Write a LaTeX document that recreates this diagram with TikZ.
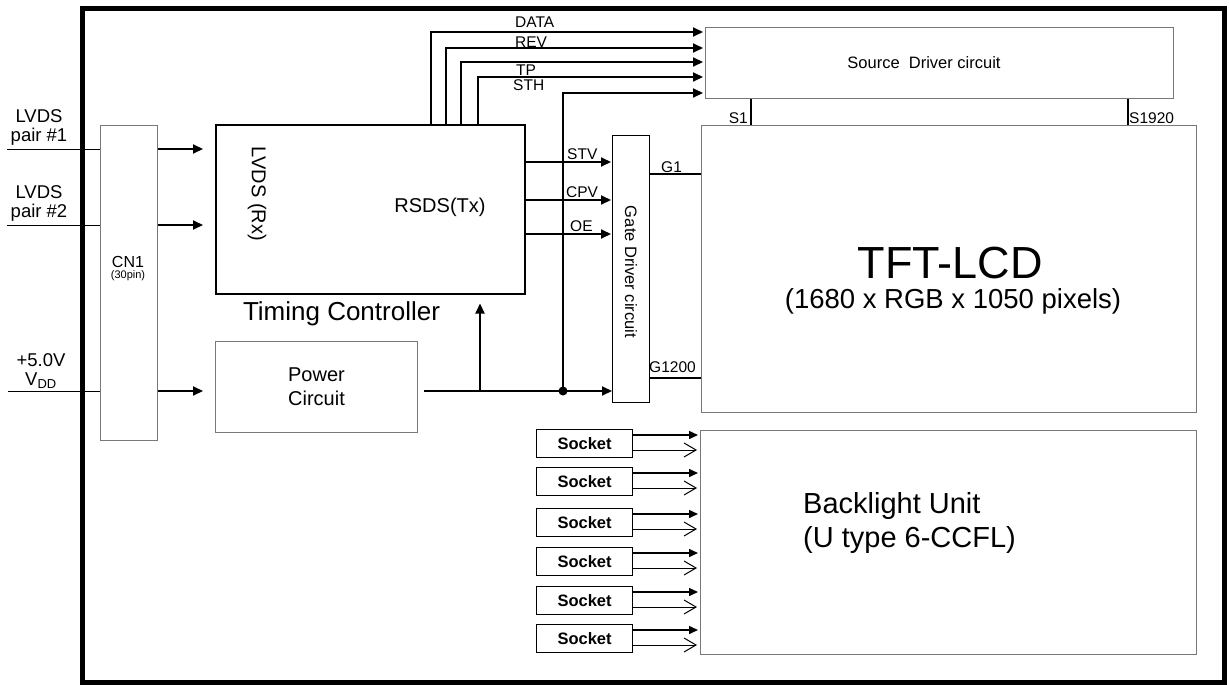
\documentclass[tikz,border=0pt]{standalone}
\usepackage{fontspec}
\setmainfont{Liberation Sans}
\usetikzlibrary{arrows.meta, positioning}
\definecolor{grijs}{RGB}{120,120,120}
\newcommand{\grootte}[1]{\fontsize{#1}{#1}\selectfont}

\tikzset{
  blok/.style={draw, rectangle, inner sep=0pt, anchor=north west, line width=1pt},
  grijsblok/.style={blok, draw=grijs},
  sig/.style={line width=2pt, -{Triangle[length=10pt, width=9pt]}},
  draad/.style={line width=1.5pt},
  lbl/.style={font=\grootte{15.5}, inner sep=0pt, anchor=base west},
  tekst/.style={inner sep=0pt, align=center},
}

\begin{document}
\begin{tikzpicture}[x=1pt, y=-1pt]
  \useasboundingbox (0,0) rectangle (1229,685);
  % kader
  \draw[line width=5pt] (82.5,8.5) rectangle (1224.5,682.5);

  % blokken
  \node[grijsblok, minimum width=57, minimum height=315] (cn) at (100,125) {};
  \node[blok, line width=1.5pt, minimum width=309, minimum height=169] (tc) at (215,124) {};
  \node[grijsblok, minimum width=202, minimum height=91, font=\grootte{20}, align=center] (pwr) at (215,341) {Power\\[4pt]Circuit};
  \node[grijsblok, minimum width=468, minimum height=71] (src) at (705,27) {};
  \node[blok, minimum width=37, minimum height=267] (gd) at (612,135) {};
  \node[grijsblok, minimum width=495, minimum height=287] (tft) at (701,125) {};
  \node[grijsblok, minimum width=496, minimum height=224] (bl) at (700,430) {};

  % teksten in de blokken
  \node[tekst, font=\grootte{16}] (cntxt) at (128,262) {CN1};
  \node[tekst, font=\grootte{11}] (cnpin) at (128,276) {(30pin)};
  \node[tekst, font=\grootte{20}, rotate=-90] (rx) at (257,194) {LVDS (Rx)};
  \node[tekst, font=\grootte{20}] (tx) at (440,207) {RSDS(Tx)};
  \node[inner sep=0pt, anchor=base, font=\grootte{26}] (tcnaam) at (341.5,320) {Timing Controller};
  \node[tekst, font=\grootte{16.5}] (srctxt) at (924,63) {Source~~Driver circuit};
  \node[tekst, font=\grootte{16.5}, rotate=-90] (gdtxt) at (631,272) {Gate Driver circuit};
  \node[tekst, font=\grootte{45}] (lcd) at (950,263) {TFT-LCD};
  \node[tekst, font=\grootte{27.5}] (res) at (953,301) {(1680 x RGB x 1050 pixels)};
  \node[tekst, font=\grootte{29}, align=left, anchor=west] (bltxt) at (803,523) {Backlight Unit\\[5pt](U type 6-CCFL)};

  % ingangen
  \coordinate (in1) at (7,149);
  \coordinate (in2) at (7,225);
  \coordinate (vdd) at (8,391);
  \node[tekst, font=\grootte{18.5}, anchor=south] (in1txt) at (39,146) {LVDS\\[1pt]pair \#1};
  \node[tekst, font=\grootte{18.5}, anchor=south] (in2txt) at (39,222) {LVDS\\[1pt]pair \#2};
  \node[tekst, font=\grootte{18.5}, anchor=south] (vddtxt) at (41,389) {+5.0V\\[1pt]V\textsubscript{DD}};
  \foreach \p in {in1, in2, vdd} {
    \draw[line width=1pt] (\p) -- (\p -| cn.west);
  }
  \draw[sig, shorten >=12pt] (in1 -| cn.east) -- (in1 -| tc.west);
  \draw[sig, shorten >=12pt] (in2 -| cn.east) -- (in2 -| tc.west);
  \draw[sig, shorten >=12pt] (vdd -| cn.east) -- (vdd -| pwr.west);

  % signalen naar source driver
  \foreach \x/\y in {431/32, 446/48, 461/62, 478/77} {
    \coordinate (h) at (\x,\y);
    \draw[sig, shorten >=2pt] (h |- tc.north) -- (h) -- (h -| src.west);
  }
  \node[lbl] (data) at (515,28) {DATA};
  \node[lbl] (rev) at (515,48) {REV};
  \node[lbl] (tp) at (516,75) {TP};
  \node[lbl] (sth) at (513,90) {STH};

  % signalen naar gate driver
  \foreach \y/\t/\lx in {162/STV/567, 200/CPV/566, 234/OE/570} {
    \coordinate (g) at (0,\y);
    \draw[sig, shorten >=1pt] (g -| tc.east) -- (g -| gd.west);
    \node[lbl] at (\lx,\y-3) {\t};
  }

  % voeding
  \coordinate (junc) at (563,391);
  \coordinate (tap) at (480,391);
  \coordinate (hk) at (563,93);
  \draw[sig, shorten <=6pt] (junc -| pwr.east) -- (junc -| gd.west);
  \draw[sig, shorten >=9pt] (tap) -- (tap |- tc.south);
  \draw[sig, shorten >=2pt] (junc) -- (hk) -- (hk -| src.west);
  \fill (junc) circle (4.5pt);

  % gate- en source-lijnen
  \coordinate (g1) at (0,174);
  \coordinate (g2) at (0,378);
  \draw[line width=2pt] (g1 -| gd.east) -- (g1 -| tft.west);
  \draw[line width=1.5pt] (g2 -| gd.east) -- (g2 -| tft.west);
  \node[lbl] (g1txt) at (661,172) {G1};
  \node[lbl] (g2txt) at (649,372) {G1200};
  \coordinate (s1) at (751,0);
  \coordinate (s2) at (1128,0);
  \draw[draad] (s1 |- src.south) -- (s1 |- tft.north);
  \draw[draad] (s2 |- src.south) -- (s2 |- tft.north);
  \node[lbl, anchor=base east] (s1txt) at (748,123) {S1};
  \node[lbl] (s2txt) at (1129,123) {S1920};

  % sockets
  \foreach \i/\t in {1/429, 2/467, 3/508, 4/547, 5/586, 6/624} {
    \node[blok, line width=1.2pt, minimum width=96, minimum height=28, font=\grootte{16.5}\bfseries] (sok\i) at (536,\t) {Socket};
    \coordinate (v\i) at ([yshift=-6pt]sok\i.north east);
    \coordinate (o\i) at ([yshift=-21pt]sok\i.north east);
    \draw[line width=1.5pt, -{Triangle[length=9pt, width=8pt]}, shorten >=2pt] (v\i) -- (v\i -| bl.west);
    \draw[line width=1pt, -{Straight Barb[length=12pt, width=14pt]}, shorten >=3pt] (o\i) -- (o\i -| bl.west);
  }
\end{tikzpicture}
\end{document}
